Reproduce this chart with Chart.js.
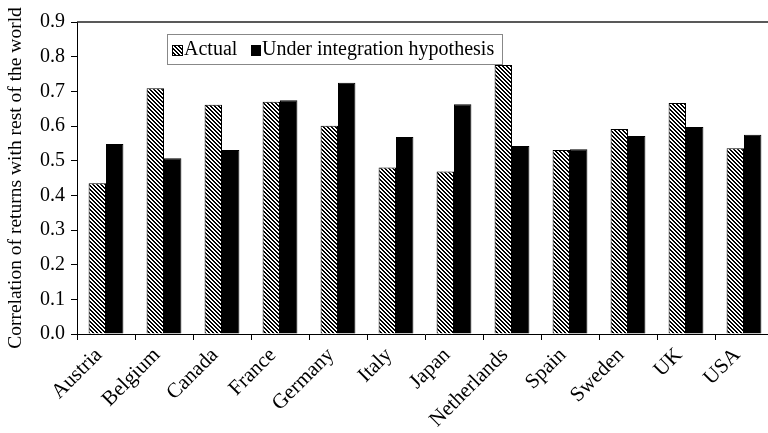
<!DOCTYPE html>
<html>
<head>
<meta charset="utf-8">
<script src="https://cdn.jsdelivr.net/npm/chart.js@4/dist/chart.umd.min.js"></script>
<style>
  html, body { margin: 0; padding: 0; background: #fff; overflow: hidden; }
  #wrap { position: relative; width: 800px; height: 433px; }
</style>
</head>
<body>
<div id="wrap"><canvas id="c" width="800" height="433"></canvas></div>
<script>
const categories = ['Austria','Belgium','Canada','France','Germany','Italy','Japan','Netherlands','Spain','Sweden','UK','USA'];
const actual = [0.435, 0.709, 0.661, 0.670, 0.601, 0.480, 0.469, 0.776, 0.531, 0.591, 0.666, 0.536];
const underIntegration = [0.548, 0.507, 0.531, 0.674, 0.725, 0.568, 0.663, 0.542, 0.533, 0.571, 0.597, 0.575];
const seriesLabels = ['Actual', 'Under integration hypothesis'];
const yTicks = [0, 0.1, 0.2, 0.3, 0.4, 0.5, 0.6, 0.7, 0.8, 0.9];

const FONT = '"Liberation Serif", "Times New Roman", serif';

function makeHatch() {
  const s = 4;
  const pc = document.createElement('canvas');
  pc.width = s; pc.height = s;
  const pctx = pc.getContext('2d');
  const img = pctx.createImageData(s, s);
  for (let y = 0; y < s; y++) {
    for (let x = 0; x < s; x++) {
      const k = (((x - y) % s) + s) % s;
      const v = k < 2 ? 0 : 255;
      const i = (y * s + x) * 4;
      img.data[i] = v; img.data[i+1] = v; img.data[i+2] = v; img.data[i+3] = 255;
    }
  }
  pctx.putImageData(img, 0, 0);
  return document.getElementById('c').getContext('2d').createPattern(pc, 'repeat');
}
const hatch = makeHatch();

const boxPlugin = {
  id: 'boxPlugin',
  afterDraw(chart) {
    const ctx = chart.ctx;
    const a = chart.chartArea;
    ctx.save();
    // top border of plot area
    ctx.strokeStyle = '#222';
    ctx.lineWidth = 1.5;
    ctx.beginPath();
    ctx.moveTo(a.left, a.top);
    ctx.lineTo(a.right, a.top);
    ctx.stroke();
    // legend box
    const lx = 167, ly = 34, lw = 335, lh = 30;
    ctx.fillStyle = '#fff';
    ctx.fillRect(lx, ly, lw, lh);
    ctx.strokeStyle = '#888';
    ctx.lineWidth = 1;
    ctx.strokeRect(lx + 0.5, ly + 0.5, lw, lh);
    ctx.font = '20px ' + FONT;
    ctx.textBaseline = 'middle';
    ctx.fillStyle = '#000';
    const cy = ly + lh / 2 + 1;
    // item 1
    ctx.fillStyle = hatch;
    ctx.fillRect(172, cy - 5, 11, 11);
    ctx.strokeStyle = '#000';
    ctx.strokeRect(172.5, cy - 4.5, 10, 10);
    ctx.fillStyle = '#000';
    ctx.fillText(seriesLabels[0], 184, cy);
    // item 2
    ctx.fillRect(251, cy - 5, 10, 11);
    ctx.fillText(seriesLabels[1], 262, cy);
    ctx.restore();
  }
};

new Chart(document.getElementById('c'), {
  type: 'bar',
  data: {
    labels: categories,
    datasets: [
      { label: seriesLabels[0], data: actual, backgroundColor: hatch, borderColor: '#000', borderWidth: 1 },
      { label: seriesLabels[1], data: underIntegration, backgroundColor: '#000', borderColor: '#000', borderWidth: 1 }
    ]
  },
  options: {
    responsive: false,
    animation: false,
    devicePixelRatio: 1,
    layout: { padding: { top: 22, right: 27, left: 0, bottom: 0 } },
    datasets: { bar: { categoryPercentage: 0.6, barPercentage: 1.0 } },
    plugins: { legend: { display: false }, tooltip: { enabled: false }, title: { display: false } },
    scales: {
      x: {
        grid: { display: true, drawOnChartArea: false, offset: true, tickLength: 6, color: '#000', lineWidth: 1 },
        border: { display: true, color: '#000', width: 1 },
        ticks: { color: '#000', font: { family: FONT, size: 21 }, maxRotation: 45, minRotation: 45, autoSkip: false, padding: 3, labelOffset: -7 },
        afterFit(s) { s.height = 99; }
      },
      y: {
        min: 0, max: 0.9,
        afterBuildTicks(s) { s.ticks = yTicks.map(v => ({ value: v })); },
        grid: { display: true, drawOnChartArea: false, tickLength: 6, color: '#000', lineWidth: 1 },
        border: { display: true, color: '#000', width: 1 },
        ticks: { color: '#000', font: { family: FONT, size: 20 }, padding: 6, callback: v => v.toFixed(1) },
        title: { display: true, text: 'Correlation of returns with rest of the world', color: '#000', font: { family: FONT, size: 19.5 }, padding: { top: 4, bottom: 3 } },
        afterFit(s) { s.width = 77; }
      }
    }
  },
  plugins: [boxPlugin]
});
</script>
</body>
</html>
